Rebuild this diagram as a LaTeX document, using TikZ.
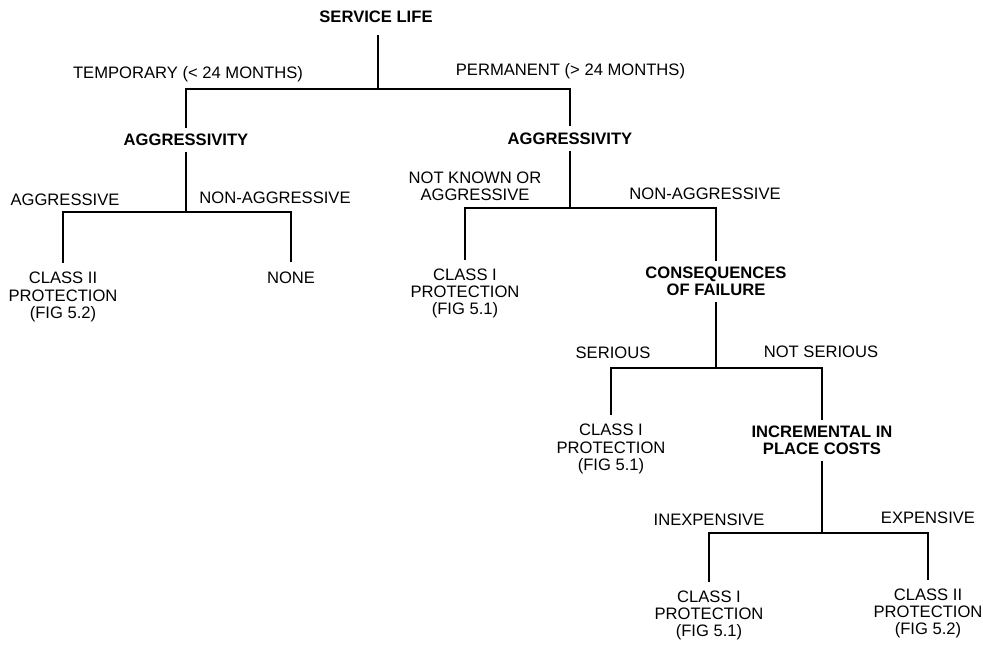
\documentclass[tikz,border=0pt]{standalone}
\usepackage{fontspec}
\setmainfont{Liberation Sans}
\usepackage{tikz}

\begin{document}
\begin{tikzpicture}[x=1pt,y=-1pt,
  every node/.style={font=\fontsize{16.6}{17.2}\selectfont, align=center, inner sep=9pt},
  question/.style={font=\fontsize{16.6}{17.2}\selectfont\bfseries, inner sep=6pt},
  branch/.style={inner sep=2pt},
  link/.style={line width=1.5pt}]
  \useasboundingbox (0,0) rectangle (983,645);

  \node[question] (life) at (376,17) {SERVICE LIFE};
  \node[branch] (temp) at (188,74.5) {TEMPORARY (< 24 MONTHS)};
  \node[branch] (perm) at (570.5,71.5) {PERMANENT (> 24 MONTHS)};

  \node[question] (aggT) at (186,140) {AGGRESSIVITY};
  \node[branch] (aggrT) at (65,200) {AGGRESSIVE};
  \node[branch] (nonT) at (275,198) {NON-AGGRESSIVE};
  \node (classT) at (63,297) {CLASS II\\PROTECTION\\(FIG 5.2)};
  \node (none) at (291,277.5) {NONE};

  \node[question] (aggP) at (570,138.5) {AGGRESSIVITY};
  \node[branch] (unknown) at (475,186.5) {NOT KNOWN OR\\AGGRESSIVE};
  \node[branch] (nonP) at (705,194) {NON-AGGRESSIVE};
  \node (classP) at (465,293.5) {CLASS I\\PROTECTION\\(FIG 5.1)};
  \node[question] (conseq) at (716,281.5) {CONSEQUENCES\\OF FAILURE};

  \node[branch] (serious) at (613,353) {SERIOUS};
  \node[branch] (notser) at (821,352) {NOT SERIOUS};
  \node (classS) at (611,449) {CLASS I\\PROTECTION\\(FIG 5.1)};
  \node[question] (costs) at (822,440.5) {INCREMENTAL IN\\PLACE COSTS};

  \node[branch] (inexp) at (709,520) {INEXPENSIVE};
  \node[branch] (exp) at (928,518) {EXPENSIVE};
  \node (classI) at (709,615.5) {CLASS I\\PROTECTION\\(FIG 5.1)};
  \node (classE) at (928,613.5) {CLASS II\\PROTECTION\\(FIG 5.2)};

  \coordinate (j1) at (378,89);
  \coordinate (j2) at (186,212);
  \coordinate (j3) at (570,208);
  \coordinate (j4) at (716,368);
  \coordinate (j5) at (822,533);

  \draw[link,shorten <=6pt] (life.south -| j1) -- (j1);
  \draw[link] (aggT.north) |- (j1) -| (aggP.north);
  \draw[link] (aggT) -- (j2);
  \draw[link] (classT.north) |- (j2) -| (none.north);
  \draw[link] (aggP) -- (j3);
  \draw[link] (classP.north) |- (j3) -| (conseq.north);
  \draw[link] (conseq) -- (j4);
  \draw[link] (classS.north) |- (j4) -| (costs.north);
  \draw[link] (costs) -- (j5);
  \draw[link] (classI.north) |- (j5) -| (classE.north);
\end{tikzpicture}
\end{document}
